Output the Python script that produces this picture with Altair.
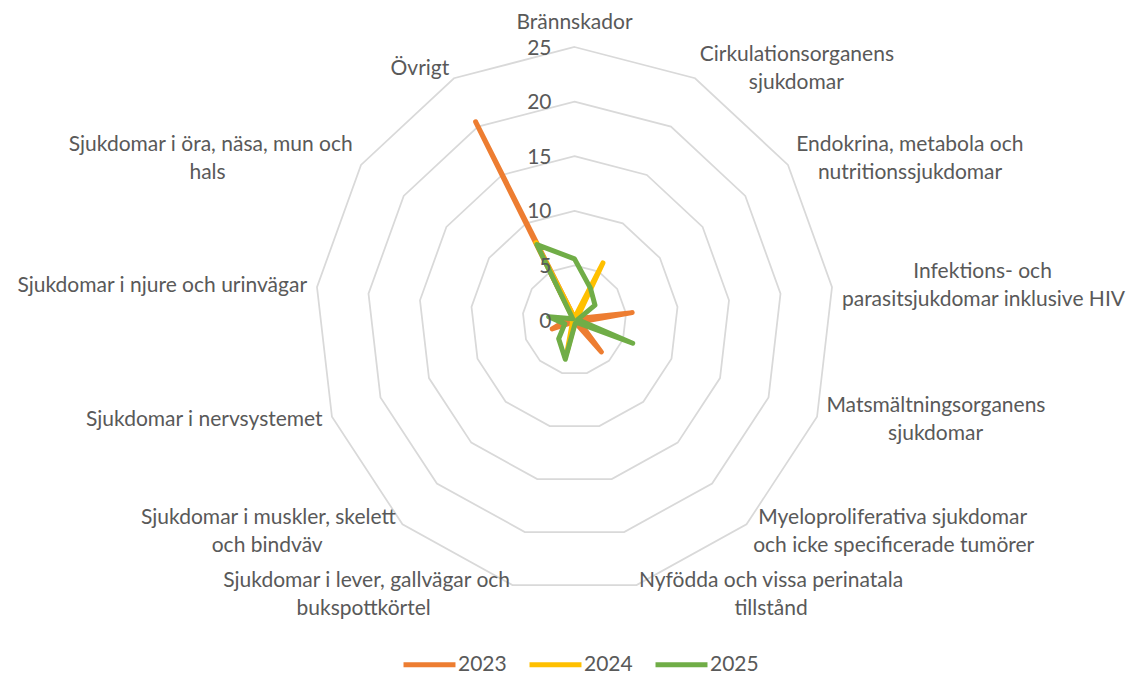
import math
import altair as alt
import pandas as pd

# ---------------- data ----------------
categories = [
    "Brännskador",
    "Cirkulationsorganens sjukdomar",
    "Endokrina, metabola och nutritionssjukdomar",
    "Infektions- och parasitsjukdomar inklusive HIV",
    "Matsmältningsorganens sjukdomar",
    "Myeloproliferativa sjukdomar och icke specificerade tumörer",
    "Nyfödda och vissa perinatala tillstånd",
    "Sjukdomar i lever, gallvägar och bukspottkörtel",
    "Sjukdomar i muskler, skelett och bindväv",
    "Sjukdomar i nervsystemet",
    "Sjukdomar i njure och urinvägar",
    "Sjukdomar i öra, näsa, mun och hals",
    "Övrigt",
]
label_lines = [
    ["Brännskador"],
    ["Cirkulationsorganens", "sjukdomar"],
    ["Endokrina, metabola och", "nutritionssjukdomar"],
    ["Infektions- och", "parasitsjukdomar inklusive HIV"],
    ["Matsmältningsorganens", "sjukdomar"],
    ["Myeloproliferativa sjukdomar", "och icke specificerade tumörer"],
    ["Nyfödda och vissa perinatala", "tillstånd"],
    ["Sjukdomar i lever, gallvägar och", "bukspottkörtel"],
    ["Sjukdomar i muskler, skelett", "och bindväv"],
    ["Sjukdomar i nervsystemet"],
    ["Sjukdomar i njure och urinvägar"],
    ["Sjukdomar i öra, näsa, mun och", "hals"],
    ["Övrigt"],
]
years = ["2023", "2024", "2025"]
values_2023 = [0.2, 0.2, 0.2, 5.6, 0.5, 3.9, 0.2, 0.3, 0.3, 2.3, 0.6, 0.1, 20.5]
values_2024 = [0.2, 5.9, 0.3, 0.3, 0.3, 0.2, 0.2, 3.0, 0.3, 0.2, 0.3, 0.1, 8.0]
values_2025 = [5.6, 3.3, 2.4, 0.3, 6.0, 0.3, 0.3, 3.7, 2.3, 1.0, 2.5, 0.2, 7.8]
grid_levels = [5, 10, 15, 20, 25]
tick_levels = [0, 5, 10, 15, 20, 25]
colors = ["#ED7D31", "#FFC000", "#70AD47"]

# ---------------- layout ----------------
W, H = 1122, 666
CX, CY = 566.5, 312.0          # centre of the radar inside the plot area (px)
RX, RY = 259.4, 273.0          # px radius of the outer ring
RMAX = 25
sx, sy = RX / RMAX, RY / RMAX
x_domain = [-CX / sx, (W - CX) / sx]
y_domain = [-(H - CY) / sy, CY / sy]
N = len(categories)

FONT = "Lato"
FS = 21
LH = 28.0
GAP = 10.0
TXT = "#595959"
WF = 0.98

ARIAL = {
    'a': .556, 'b': .556, 'c': .5, 'd': .556, 'e': .556, 'f': .278, 'g': .556, 'h': .556,
    'i': .222, 'j': .222, 'k': .5, 'l': .222, 'm': .833, 'n': .556, 'o': .556, 'p': .556,
    'q': .556, 'r': .333, 's': .5, 't': .278, 'u': .556, 'v': .5, 'w': .722, 'x': .5,
    'y': .5, 'z': .5, ' ': .278, ',': .278, '-': .333, 'ä': .556, 'ö': .556, 'å': .556,
    'S': .667, 'B': .667, 'C': .722, 'E': .667, 'I': .278, 'M': .833, 'N': .722,
    'O': .778, 'H': .722, 'V': .667, 'Ö': .778, 'T': .611, 'A': .667,
}


def est_width(t):
    return sum(ARIAL.get(ch, .556) for ch in t) * FS * WF


rows = []
for year, vals in zip(years, [values_2023, values_2024, values_2025]):
    for k, (c, v) in enumerate(zip(categories, vals)):
        rows.append({"year": year, "k": k, "category": c, "value": v})
series = pd.DataFrame(rows)

grid = pd.DataFrame([{"level": lv, "k": k} for lv in grid_levels for k in range(N)])
ticks = pd.DataFrame({"level": tick_levels, "label": [str(t) for t in tick_levels]})

lab_rows = []
for k, lines in enumerate(label_lines):
    th = 2 * math.pi * k / N
    s, c = math.sin(th), math.cos(th)
    ax = (RMAX + GAP / sx) * s
    ay = (RMAX + GAP / sy) * c
    n = len(lines)
    widths = [est_width(l) for l in lines]
    wmax = max(widths)
    if abs(s) < 0.01:
        cyb = ay + (n * LH / 2) / sy
    else:
        cyb = ay
    for i, line in enumerate(lines):
        ly = cyb + ((n - 1) / 2 - i) * LH / sy
        if abs(s) < 0.01:
            al, lx = "center", ax
        elif s > 0:
            if widths[i] == wmax:
                al, lx = "left", ax
            else:
                al, lx = "center", ax + wmax / 2 / sx
        else:
            if widths[i] == wmax:
                al, lx = "right", ax
            else:
                al, lx = "center", ax - wmax / 2 / sx
        lab_rows.append({"text": line, "lx": lx, "ly": ly, "al": al})
labels = pd.DataFrame(lab_rows)

xs = alt.Scale(domain=x_domain, nice=False, zero=False)
ys = alt.Scale(domain=y_domain, nice=False, zero=False)

grid_layer = (
    alt.Chart(grid)
    .transform_calculate(theta=f"2*PI*datum.k/{N}")
    .transform_calculate(gx="datum.level*sin(datum.theta)", gy="datum.level*cos(datum.theta)")
    .mark_line(interpolate="linear-closed", color="#D9D9D9", strokeWidth=1.75)
    .encode(
        x=alt.X("gx:Q", scale=xs, axis=None),
        y=alt.Y("gy:Q", scale=ys, axis=None),
        detail="level:N",
        order="k:Q",
    )
)

line_layer = (
    alt.Chart(series)
    .transform_calculate(theta=f"2*PI*datum.k/{N}")
    .transform_calculate(px="datum.value*sin(datum.theta)", py="datum.value*cos(datum.theta)")
    .mark_line(interpolate="linear-closed", strokeWidth=5, strokeCap="round", strokeJoin="round")
    .encode(
        x=alt.X("px:Q", scale=xs, axis=None),
        y=alt.Y("py:Q", scale=ys, axis=None),
        color=alt.Color(
            "year:N",
            scale=alt.Scale(domain=years, range=colors),
            legend=alt.Legend(
                title=None,
                orient="none",
                direction="horizontal",
                legendX=393,
                legendY=628,
                symbolType="stroke",
                symbolSize=2700,
                symbolStrokeWidth=5,
                labelFont=FONT,
                labelFontSize=FS,
                labelColor=TXT,
                labelOffset=0,
                columnPadding=12,
                padding=0,
            ),
        ),
        order="k:Q",
    )
)

tick_layer = (
    alt.Chart(ticks)
    .transform_calculate(zero="0")
    .mark_text(align="right", baseline="middle", dx=-23, dy=1.5, font=FONT, fontSize=FS, color=TXT)
    .encode(
        x=alt.X("zero:Q", scale=xs, axis=None),
        y=alt.Y("level:Q", scale=ys, axis=None),
        text="label:N",
    )
)


def label_layer(al):
    return (
        alt.Chart(labels)
        .transform_filter(alt.datum.al == al)
        .mark_text(align=al, baseline="middle", font=FONT, fontSize=FS, color=TXT)
        .encode(
            x=alt.X("lx:Q", scale=xs, axis=None),
            y=alt.Y("ly:Q", scale=ys, axis=None),
            text="text:N",
        )
    )


chart = (
    alt.layer(grid_layer, line_layer, tick_layer,
              label_layer("left"), label_layer("right"), label_layer("center"))
    .properties(width=W, height=H, padding=0, autosize=alt.AutoSizeParams(type="none"))
    .configure_view(strokeWidth=0)
)

chart.save("out.html", embed_options={"renderer": "svg", "actions": False})
